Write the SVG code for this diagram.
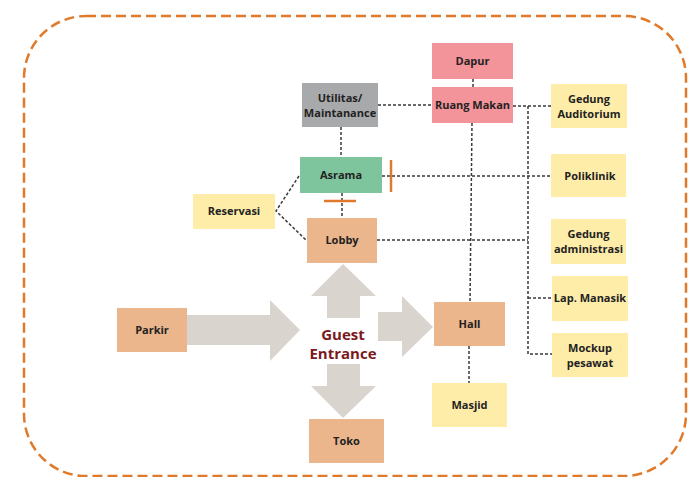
<svg xmlns="http://www.w3.org/2000/svg" width="690" height="477" viewBox="0 0 690 477">
  <style>
    .lbl { font-family: "Open Sans", "Liberation Sans", sans-serif; font-weight: bold; font-size: 11px; fill: #222; text-anchor: middle; }
    .big { font-family: "Open Sans", "Liberation Sans", sans-serif; font-weight: bold; font-size: 15px; fill: #7A1A1C; text-anchor: middle; }
    .pink { fill: #F3939A; }
    .gray { fill: #A8A9AB; }
    .green { fill: #7EC59D; }
    .yellow { fill: #FEEDA9; }
    .tan { fill: #EBB68B; }
    .arrow { fill: #DAD4CE; }
    .link { fill: none; stroke: #3a3a3a; stroke-width: 1.5; stroke-dasharray: 3 2; }
    .tick { stroke: #E07A2A; stroke-width: 2.5; }
  </style>

  <!-- outer zone boundary -->
  <rect x="24" y="16" width="662" height="460" rx="62" ry="62" fill="none" stroke="#E07A2A" stroke-width="2.5" stroke-dasharray="10 5"/>

  <!-- circulation arrows around the entrance -->
  <g id="flow-arrows">
    <polygon class="arrow" points="187,315 270,315 270,300 300,330 270,361 270,345 187,345"/>
    <polygon class="arrow" points="327,318 327,296 311,296 343,264 376,296 360,296 360,318"/>
    <polygon class="arrow" points="378,312 402,312 402,296 433,327 402,357 402,341 378,341"/>
    <polygon class="arrow" points="327,364 360,364 360,386 376,386 343,418 311,386 327,386"/>
  </g>

  <!-- dashed relations -->
  <g id="connectors">
    <line class="link" x1="473" y1="79" x2="473" y2="87"/>
    <line class="link" x1="378" y1="105" x2="432" y2="105"/>
    <line class="link" x1="341" y1="127" x2="341" y2="157"/>
    <line class="link" x1="342" y1="193" x2="342" y2="218"/>
    <polyline class="link" points="299,176 276,211 307,241"/>
    <line class="link" x1="382" y1="176" x2="551" y2="176"/>
    <line class="link" x1="377" y1="240" x2="528" y2="240"/>
    <line class="link" x1="513" y1="106" x2="551" y2="106"/>
    <polyline class="link" points="528,106 528,354 552,354"/>
    <line class="link" x1="528" y1="298" x2="552" y2="298"/>
    <line class="link" x1="472" y1="123" x2="470" y2="302"/>
    <line class="link" x1="469" y1="346" x2="469" y2="383"/>
    <line class="tick" x1="391" y1="160" x2="391" y2="192"/>
    <line class="tick" x1="324" y1="201" x2="356" y2="201"/>
  </g>

  <g id="dapur">
    <rect class="pink" x="432" y="43" width="81" height="36"/>
    <text class="lbl" x="472.5" y="65">Dapur</text>
  </g>
  <g id="ruang-makan">
    <rect class="pink" x="432" y="87" width="81" height="36"/>
    <text class="lbl" x="472.5" y="109">Ruang Makan</text>
  </g>
  <g id="utilitas">
    <rect class="gray" x="302" y="83" width="76" height="44"/>
    <text class="lbl" x="340" y="102">Utilitas/</text>
    <text class="lbl" x="340" y="117">Maintanance</text>
  </g>
  <g id="asrama">
    <rect class="green" x="300" y="157" width="82" height="36"/>
    <text class="lbl" x="341" y="179">Asrama</text>
  </g>
  <g id="reservasi">
    <rect class="yellow" x="193" y="194" width="82" height="35"/>
    <text class="lbl" x="234" y="215">Reservasi</text>
  </g>
  <g id="lobby">
    <rect class="tan" x="307" y="218" width="70" height="45"/>
    <text class="lbl" x="342" y="244">Lobby</text>
  </g>
  <g id="gedung-auditorium">
    <rect class="yellow" x="551" y="84" width="76" height="44"/>
    <text class="lbl" x="589" y="103">Gedung</text>
    <text class="lbl" x="589" y="118">Auditorium</text>
  </g>
  <g id="poliklinik">
    <rect class="yellow" x="551" y="154" width="75" height="43"/>
    <text class="lbl" x="590" y="180">Poliklinik</text>
  </g>
  <g id="gedung-administrasi">
    <rect class="yellow" x="551" y="219" width="75" height="45"/>
    <text class="lbl" x="588.5" y="238">Gedung</text>
    <text class="lbl" x="588.5" y="253">administrasi</text>
  </g>
  <g id="lap-manasik">
    <rect class="yellow" x="552" y="276" width="76" height="45"/>
    <text class="lbl" x="590" y="302">Lap. Manasik</text>
  </g>
  <g id="mockup-pesawat">
    <rect class="yellow" x="552" y="333" width="76" height="44"/>
    <text class="lbl" x="590" y="352">Mockup</text>
    <text class="lbl" x="590" y="367">pesawat</text>
  </g>
  <g id="parkir">
    <rect class="tan" x="117" y="308" width="70" height="44"/>
    <text class="lbl" x="152" y="334">Parkir</text>
  </g>
  <g id="guest-entrance">
    <text class="big" x="343" y="340">Guest</text>
    <text class="big" x="343" y="359">Entrance</text>
  </g>
  <g id="hall">
    <rect class="tan" x="434" y="302" width="71" height="44"/>
    <text class="lbl" x="469.5" y="328">Hall</text>
  </g>
  <g id="masjid">
    <rect class="yellow" x="432" y="383" width="75" height="44"/>
    <text class="lbl" x="469.5" y="409">Masjid</text>
  </g>
  <g id="toko">
    <rect class="tan" x="309" y="419" width="75" height="44"/>
    <text class="lbl" x="346.5" y="445">Toko</text>
  </g>
</svg>
